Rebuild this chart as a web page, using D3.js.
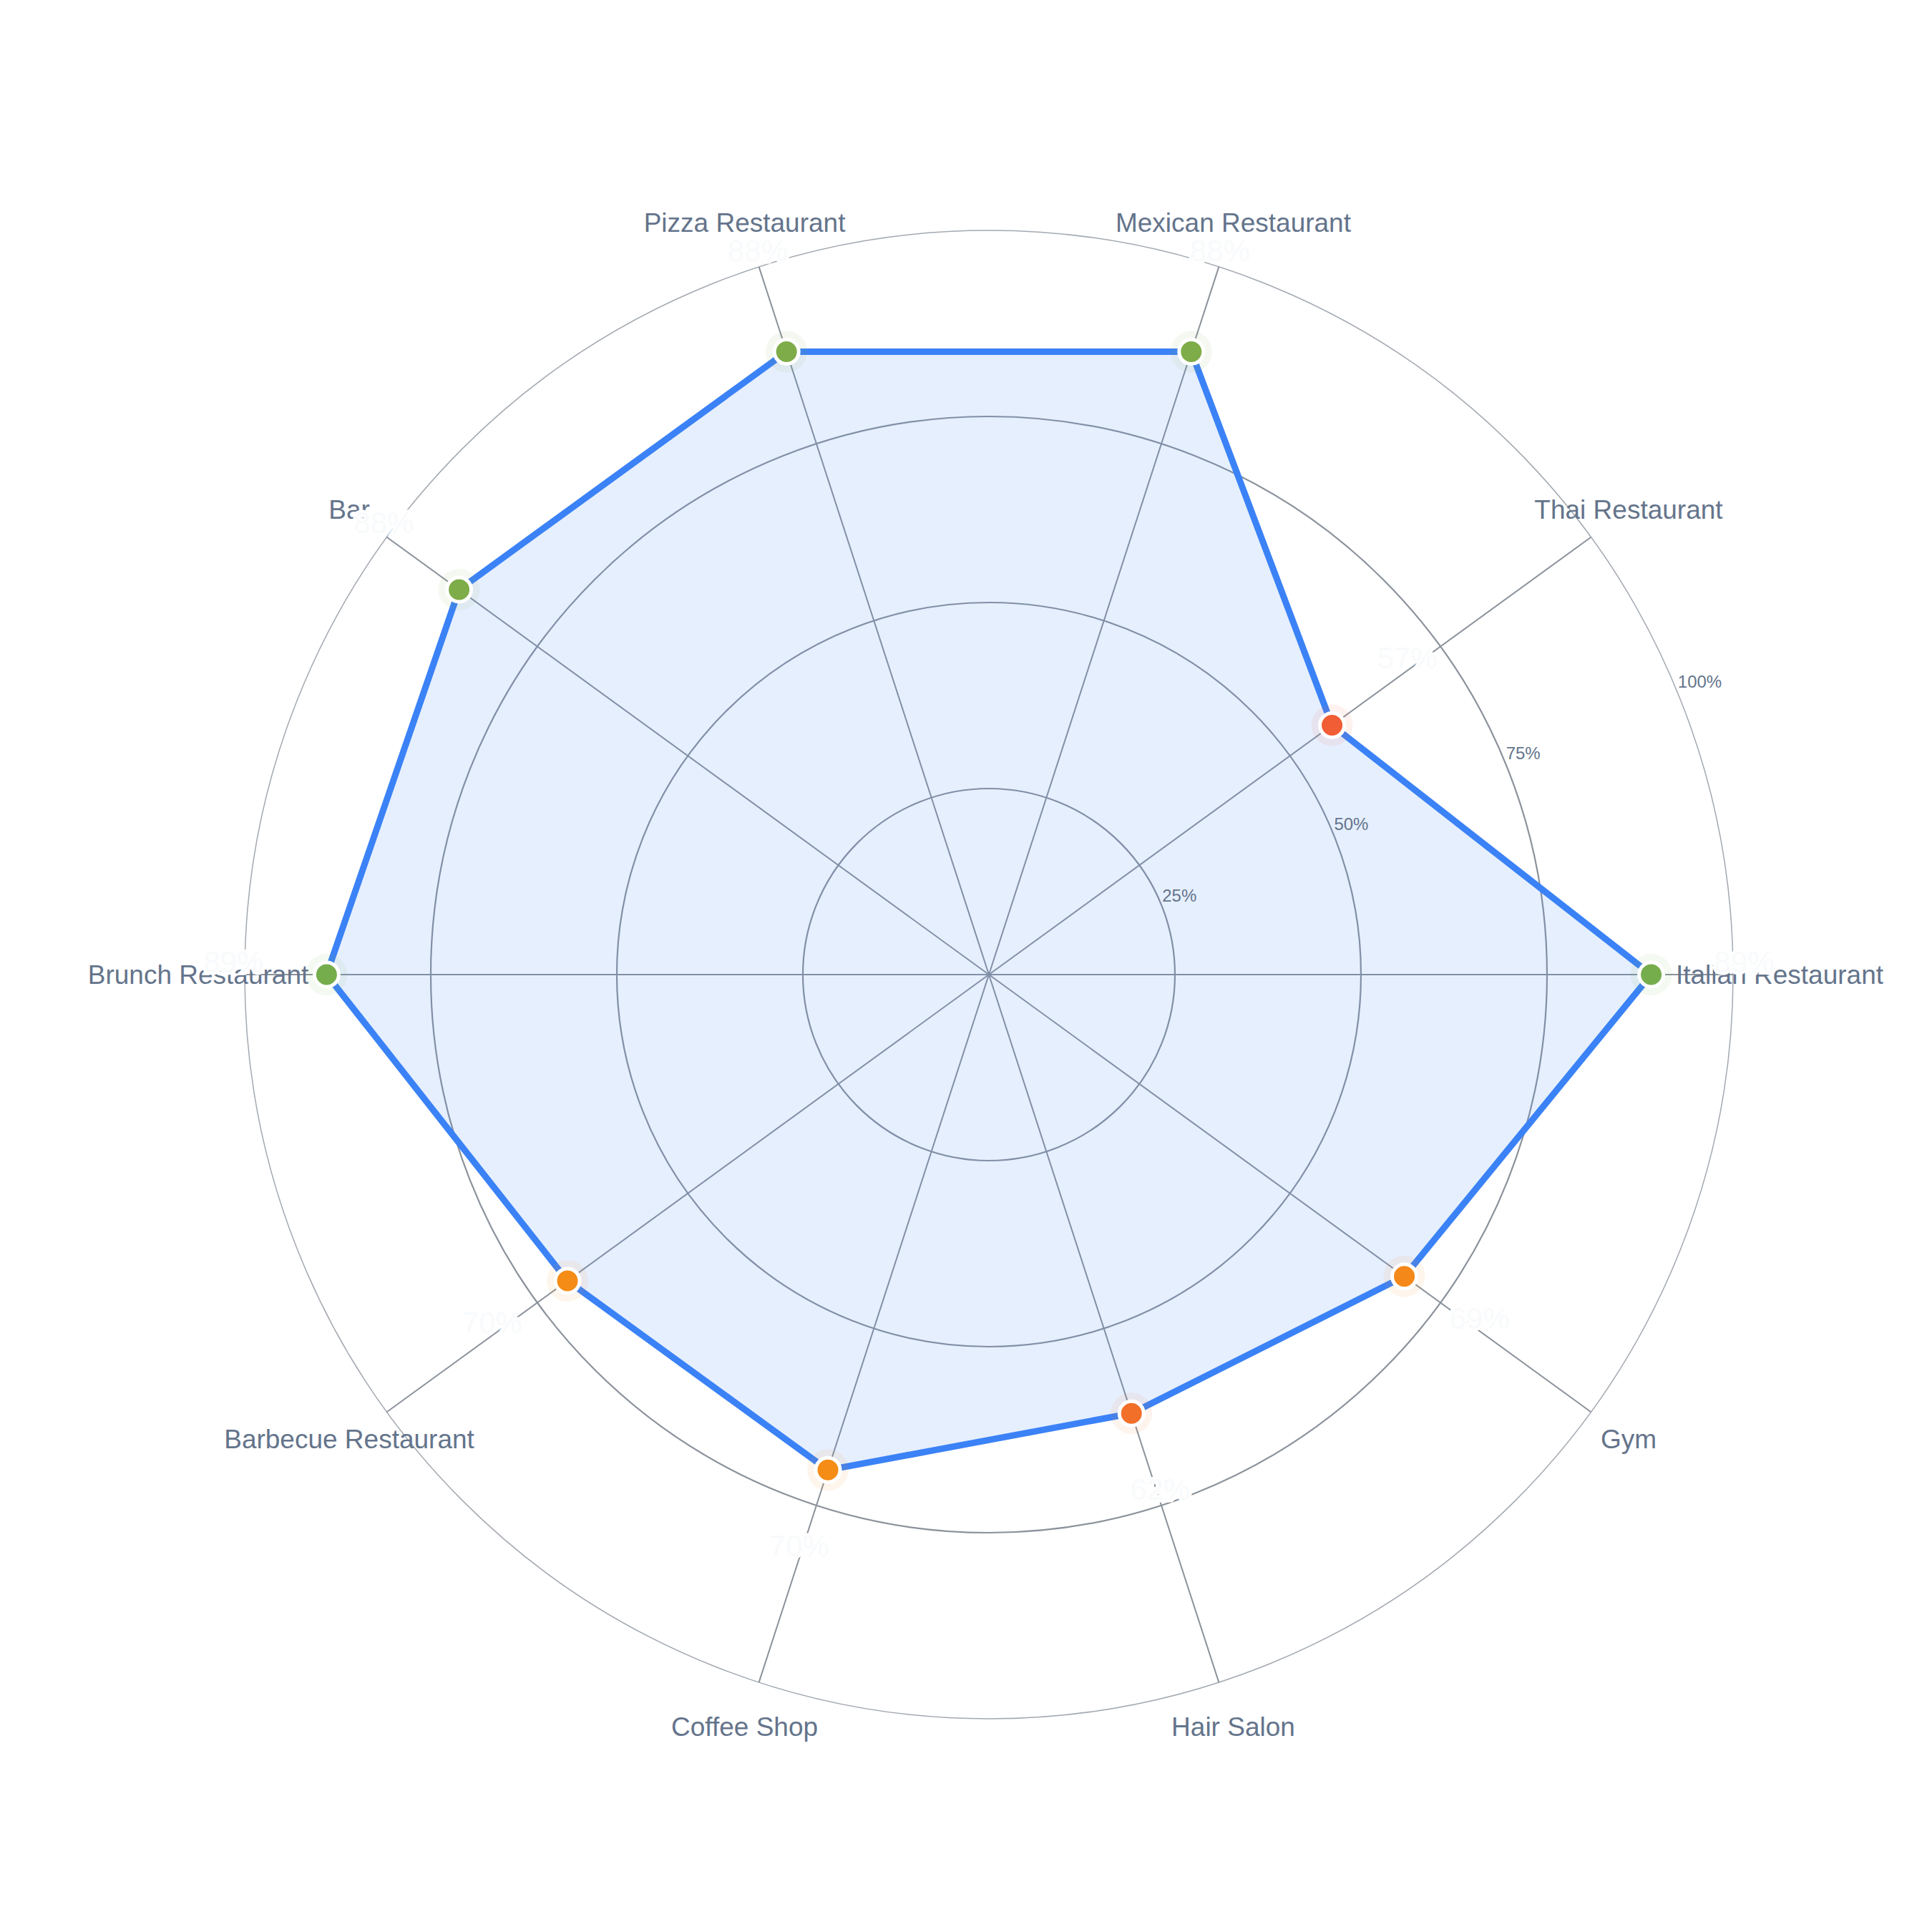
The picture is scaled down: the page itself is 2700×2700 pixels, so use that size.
<!DOCTYPE html>
<html>
<head>
<meta charset="utf-8">
<script src="https://cdn.jsdelivr.net/npm/d3@7"></script>
<style>
  html, body { margin: 0; padding: 0; background: #fff; }
  svg text { font-family: "Liberation Sans", Arial, Helvetica, sans-serif; }
</style>
</head>
<body>
<div id="radar"></div>
<script>
// categories, counter-clockwise starting at 3 o'clock
const categories = ["Italian Restaurant", "Thai Restaurant", "Mexican Restaurant", "Pizza Restaurant", "Bar",
                    "Brunch Restaurant", "Barbecue Restaurant", "Coffee Shop", "Hair Salon", "Gym"];
const values = [89, 57, 88, 88, 88, 89, 70, 70, 62, 69];
const ticks = [25, 50, 75, 100];

const width = 2700, height = 2700;
const cx = 1382, cy = 1362;
const outer = 1040;

const svg = d3.select("#radar")
    .append("svg")
    .attr("width", width)
    .attr("height", height);

const g = svg.append("g")
    .attr("transform", "translate(" + cx + "," + cy + ")");

// scales
const rScale = d3.scaleLinear().domain([0, 100]).range([0, outer]);
// radial angle (d3 convention: 0 = up, clockwise)
const aScale = d3.scaleLinear().domain([0, categories.length]).range([Math.PI / 2, Math.PI / 2 - 2 * Math.PI]);
const color = d3.scaleLinear().domain([50, 75, 100]).range(["#ef4444", "#f59e0b", "#10b981"]).clamp(true);

const px = (i, r) => r * Math.sin(aScale(i));
const py = (i, r) => -r * Math.cos(aScale(i));

// rings
g.selectAll("circle.ring")
    .data(ticks)
    .enter().append("circle")
    .attr("class", "ring")
    .attr("r", d => rScale(d))
    .attr("fill", "none")
    .attr("stroke", d => d === 100 ? "#a3a9b1" : "#8b929b")
    .attr("stroke-width", d => d === 100 ? 1.5 : 2.2);

// spokes
g.selectAll("line.spoke")
    .data(categories)
    .enter().append("line")
    .attr("class", "spoke")
    .attr("x1", 0).attr("y1", 0)
    .attr("x2", (d, i) => px(i, rScale(100)))
    .attr("y2", (d, i) => py(i, rScale(100)))
    .attr("stroke", "#8b929b")
    .attr("stroke-width", 2);

// category labels
g.selectAll("text.cat")
    .data(categories)
    .enter().append("text")
    .attr("class", "cat")
    .attr("x", (d, i) => px(i, rScale(100) + 65))
    .attr("y", (d, i) => py(i, rScale(100) + 65) + 3)
    .attr("text-anchor", "middle")
    .attr("dominant-baseline", "middle")
    .attr("fill", "#64748b")
    .attr("font-size", 37)
    .text(d => d);

// area
const radar = d3.lineRadial()
    .angle((d, i) => aScale(i))
    .radius(d => rScale(d))
    .curve(d3.curveLinearClosed);

g.append("path")
    .datum(values)
    .attr("d", radar)
    .attr("fill", "#3b82f6")
    .attr("fill-opacity", 0.13)
    .attr("stroke", "#3b82f6")
    .attr("stroke-width", 9)
    .attr("stroke-linejoin", "round");

// tick labels
const tickAngle = 22.5 * Math.PI / 180;
g.selectAll("text.tick")
    .data(ticks)
    .enter().append("text")
    .attr("class", "tick")
    .attr("x", d => rScale(d) * Math.cos(tickAngle) + 2)
    .attr("y", d => -rScale(d) * Math.sin(tickAngle) - 3)
    .attr("fill", "#64748b")
    .attr("font-size", 24)
    .text(d => d + "%");

// points
const pts = g.selectAll("g.pt")
    .data(values)
    .enter().append("g")
    .attr("class", "pt")
    .attr("transform", (d, i) => "translate(" + px(i, rScale(d)) + "," + py(i, rScale(d)) + ")");

pts.append("circle")
    .attr("r", 29)
    .attr("fill", d => color(d))
    .attr("fill-opacity", 0.08);

pts.append("circle")
    .attr("r", 17)
    .attr("fill", d => color(d))
    .attr("stroke", "#fff")
    .attr("stroke-width", 5);

// value labels (nearly white, with a white halo)
g.selectAll("text.val")
    .data(values)
    .enter().append("text")
    .attr("class", "val")
    .attr("x", (d, i) => px(i, rScale(d) + 130))
    .attr("y", (d, i) => py(i, rScale(d) + 130) - 14)
    .attr("text-anchor", "middle")
    .attr("dominant-baseline", "middle")
    .attr("font-size", 42)
    .attr("fill", "#f8fafc")
    .attr("stroke", "#ffffff")
    .attr("stroke-width", 7)
    .attr("paint-order", "stroke")
    .text(d => d + "%");
</script>
</body>
</html>
